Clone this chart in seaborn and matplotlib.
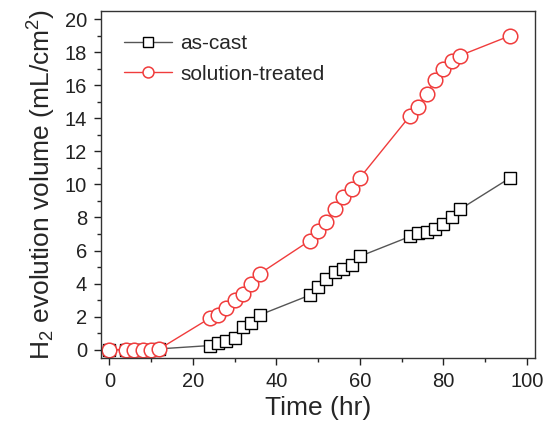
import matplotlib
matplotlib.use('Agg')
import matplotlib.pyplot as plt
import seaborn as sns
import pandas as pd
from matplotlib.ticker import MultipleLocator

time_hr = [0, 4, 6, 8, 10, 12, 24, 26, 28, 30, 32, 34, 36, 48, 50, 52, 54, 56, 58, 60,
           72, 74, 76, 78, 80, 82, 84, 96]
as_cast = [0, 0, 0, 0, 0, 0.05, 0.25, 0.4, 0.55, 0.7, 1.4, 1.6, 2.1, 3.3, 3.8, 4.25, 4.7,
           4.9, 5.15, 5.65, 6.85, 7.05, 7.1, 7.3, 7.6, 8.0, 8.5, 10.4]
solution_treated = [0, 0, 0, 0, 0, 0.05, 1.9, 2.1, 2.5, 3.0, 3.4, 4.0, 4.6, 6.6, 7.2, 7.75,
                    8.5, 9.25, 9.7, 10.4, 14.15, 14.7, 15.5, 16.3, 17.0, 17.45, 17.8, 19.0]

df = pd.DataFrame({'time': time_hr, 'as-cast': as_cast, 'solution-treated': solution_treated})

sns.set_style('ticks')
plt.rcParams['font.family'] = ['Liberation Sans', 'DejaVu Sans']
plt.rcParams['mathtext.default'] = 'regular'

fig = plt.figure(figsize=(5.49, 4.36), dpi=100)
ax = fig.add_axes([0.184, 0.179, 0.791, 0.796])

sns.lineplot(data=df, x='time', y='as-cast', ax=ax, color='#555555', linewidth=1,
             marker='s', markersize=9, markerfacecolor='white', markeredgecolor='black',
             markeredgewidth=1, label='as-cast')
sns.lineplot(data=df, x='time', y='solution-treated', ax=ax, color='#f03c3c', linewidth=1,
             marker='o', markersize=10.5, markerfacecolor='white', markeredgecolor='#f03c3c',
             markeredgewidth=1.1, label='solution-treated')

ax.set_xlim(-2, 102)
ax.set_ylim(-0.5, 20.5)
ax.xaxis.set_major_locator(MultipleLocator(20))
ax.xaxis.set_minor_locator(MultipleLocator(10))
ax.yaxis.set_major_locator(MultipleLocator(2))
ax.yaxis.set_minor_locator(MultipleLocator(1))
ax.tick_params(which='major', direction='out', length=5, width=1, labelsize=14.5,
               colors='#222222', pad=5)
ax.tick_params(which='minor', direction='out', length=3, width=1)
for s in ax.spines.values():
    s.set_color('#333333')
    s.set_linewidth(1)

ax.set_xlabel('Time (hr)', fontsize=19, labelpad=4)
ax.set_ylabel('H$_2$ evolution volume (mL/cm$^2$)', fontsize=19, labelpad=5)

ax.legend(loc='upper left', frameon=False, fontsize=15, handlelength=2.3, markerscale=0.75,
          handletextpad=0.4, labelspacing=0.55, borderaxespad=0.3, bbox_to_anchor=(0.02, 0.975))

fig.savefig('out.png', dpi=100)
